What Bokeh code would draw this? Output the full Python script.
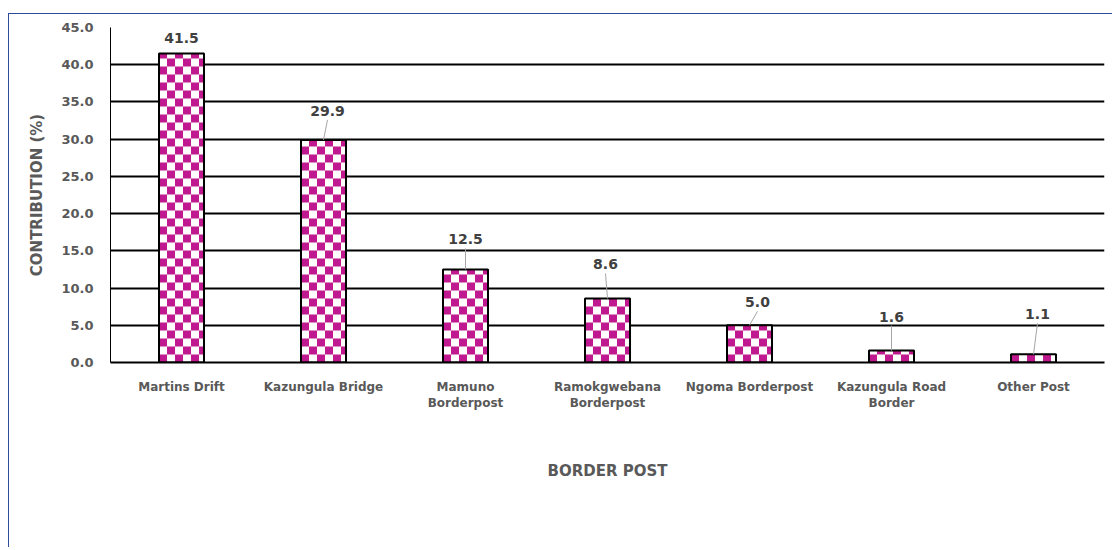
import math
from bokeh.plotting import figure
from bokeh.models import ColumnDataSource, Range1d, FixedTicker, NumeralTickFormatter
from bokeh.core.properties import value
from bokeh.embed import file_html
from bokeh.resources import INLINE

# ---- data ----
categories = ["Martins Drift", "Kazungula Bridge", "Mamuno\nBorderpost",
              "Ramokgwebana\nBorderpost", "Ngoma Borderpost", "Kazungula Road\nBorder",
              "Other Post"]
contribution = [41.5, 29.9, 12.5, 8.6, 5.0, 1.6, 1.1]
y_ticks = [0, 5, 10, 15, 20, 25, 30, 35, 40, 45]

# ---- label placement (pixels above / right of bar top) ----
label_dy_px = [16, 29, 30, 34, 23, 34, 40]
label_dx_px = [0, 4, 0, -2, 8, 0, 4]
leader = [False, True, True, True, True, True, True]

FONT = "DejaVu Sans"
MAGENTA = "#C0188E"
TXT = "#595959"

n = len(categories)
xs = list(range(n))

W, H = 1104, 534
MB_L, MB_R, MB_T, MB_B = 101, 9, 13, 186
p = figure(width=W, height=H, output_backend="svg", toolbar_location=None,
           x_range=Range1d(-0.5, n - 0.5), y_range=Range1d(0, 45),
           min_border_left=MB_L, min_border_right=MB_R, min_border_top=MB_T,
           min_border_bottom=MB_B)
p.styles = {"border-left": "1.5px solid #2F4B9C", "border-top": "1.5px solid #2F4B9C",
            "margin-top": "13px", "margin-left": "8px"}
p.outline_line_color = None
p.background_fill_color = "white"
p.border_fill_color = "white"

# frame size in px for conversions
frame_w = W - MB_L - MB_R
frame_h = H - MB_T - MB_B
px_x = n / frame_w
px_y = 45 / frame_h

BAR_W = 0.317
SQ = 8  # checker square, px

# checkerboard fill computed from the bar values
ql, qr, qb, qt = [], [], [], []
for x, v in zip(xs, contribution):
    left = x - BAR_W / 2
    right = x + BAR_W / 2
    wpx = BAR_W / px_x
    hpx = v / px_y
    for c in range(math.ceil(wpx / SQ)):
        for r in range(math.ceil(hpx / SQ)):
            if (r + c) % 2 == 0:
                ql.append(left + c * SQ * px_x)
                qr.append(min(left + (c + 1) * SQ * px_x, right))
                qb.append(r * SQ * px_y)
                qt.append(min((r + 1) * SQ * px_y, v))

src = ColumnDataSource(dict(x=xs, top=contribution))
p.vbar(x="x", top="top", width=BAR_W, bottom=0, source=src,
       fill_color="white", line_color=None)
p.quad(left=ql, right=qr, bottom=qb, top=qt, fill_color=MAGENTA, line_color=None)
p.vbar(x="x", top="top", width=BAR_W, bottom=0, source=src,
       fill_color=None, line_color="black", line_width=2)

# labels and leader lines
lx = [x + dx * px_x for x, dx in zip(xs, label_dx_px)]
ly = [v + dy * px_y for v, dy in zip(contribution, label_dy_px)]
labels = [f"{v:.1f}" for v in contribution]
p.text(x=lx, y=ly, text=labels, text_align="center", text_baseline="middle",
       text_font=value(FONT), text_font_style="bold", text_font_size="14px",
       text_color="#404040")

sx0, sy0, sx1, sy1 = [], [], [], []
for x, v, dx, dy, has in zip(xs, contribution, label_dx_px, label_dy_px, leader):
    if not has:
        continue
    sx0.append(x + dx * px_x)
    sy0.append(v + (dy - 9) * px_y)
    sx1.append(x)
    sy1.append(v)
p.segment(x0=sx0, y0=sy0, x1=sx1, y1=sy1, line_color="#A6A6A6", line_width=1)

# grid
p.xgrid.grid_line_color = None
p.ygrid.grid_line_color = "black"
p.ygrid.grid_line_width = 2
p.ygrid.ticker = FixedTicker(ticks=y_ticks)

# y axis
p.yaxis.ticker = FixedTicker(ticks=y_ticks)
p.yaxis.formatter = NumeralTickFormatter(format="0.0")
p.yaxis.major_tick_line_color = None
p.yaxis.minor_tick_line_color = None
p.yaxis.axis_line_color = "black"
p.yaxis.axis_line_width = 1
p.yaxis.major_label_standoff = 11
p.yaxis.major_label_text_font = FONT
p.yaxis.major_label_text_font_style = "bold"
p.yaxis.major_label_text_font_size = "13px"
p.yaxis.major_label_text_color = TXT
p.yaxis.axis_label = "CONTRIBUTION (%)"
p.yaxis.axis_label_text_font = FONT
p.yaxis.axis_label_text_font_style = "bold"
p.yaxis.axis_label_text_font_size = "15px"
p.yaxis.axis_label_text_color = TXT
p.yaxis.axis_label_standoff = 12

# x axis
p.xaxis.ticker = FixedTicker(ticks=xs)
p.xaxis.major_label_overrides = {i: c for i, c in enumerate(categories)}
p.xaxis.major_tick_line_color = None
p.xaxis.minor_tick_line_color = None
p.xaxis.axis_line_color = "black"
p.xaxis.axis_line_width = 2
p.xaxis.major_label_standoff = 11
p.xaxis.major_label_text_font = FONT
p.xaxis.major_label_text_font_style = "bold"
p.xaxis.major_label_text_font_size = "12px"
p.xaxis.major_label_text_color = TXT
p.xaxis.axis_label = "BORDER POST"
p.xaxis.axis_label_text_font = FONT
p.xaxis.axis_label_text_font_style = "bold"
p.xaxis.axis_label_text_font_size = "15px"
p.xaxis.axis_label_text_color = TXT
p.xaxis.axis_label_standoff = 49

open("out.html", "w").write(file_html(p, INLINE))
